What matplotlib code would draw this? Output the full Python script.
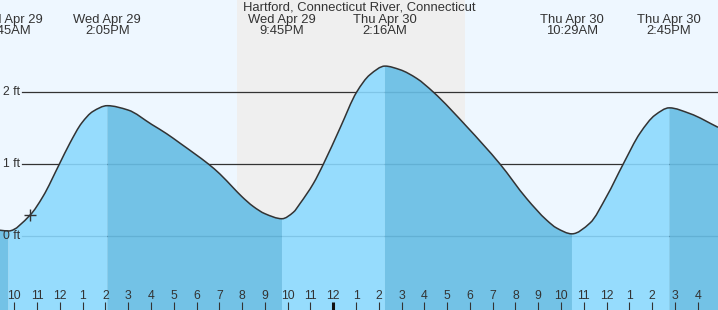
import matplotlib
matplotlib.use("Agg")
import matplotlib.pyplot as plt
import matplotlib.transforms as mtransforms
from matplotlib.path import Path
from matplotlib.patches import PathPatch

plt.rcParams['font.family'] = ['Liberation Sans', 'DejaVu Sans']

# tide curve (hours since midnight Apr 29, feet)
times = [9.37, 9.75, 10.69, 11.26, 11.98, 12.44, 12.96, 13.45, 14.08, 14.99,
         16.03, 16.69, 17.27, 17.93, 18.52, 19.03, 19.61, 19.98, 20.49, 21.00,
         21.75, 22.25, 22.54, 23.13, 23.57, 24.30, 25.03, 25.61, 26.27, 26.93,
         27.66, 28.39, 29.86, 31.32, 32.49, 33.37, 33.81, 34.48, 35.27, 36.00,
         36.73, 37.47, 38.13, 38.75, 39.66, 40.89]
heights = [0.08, 0.07, 0.29, 0.55, 1.00, 1.29, 1.57, 1.73, 1.81, 1.75,
           1.55, 1.42, 1.29, 1.14, 1.00, 0.86, 0.67, 0.55, 0.41, 0.31,
           0.24, 0.33, 0.45, 0.73, 1.00, 1.50, 2.00, 2.24, 2.36, 2.31,
           2.19, 2.00, 1.52, 1.00, 0.52, 0.22, 0.11, 0.03, 0.18, 0.55,
           1.00, 1.43, 1.68, 1.78, 1.70, 1.51]

# highs and lows
ext_times = [9.75, 14.08, 21.75, 26.27, 34.48, 38.75]
ext_days = ['Wed Apr 29', 'Wed Apr 29', 'Wed Apr 29', 'Thu Apr 30', 'Thu Apr 30', 'Thu Apr 30']
ext_clock = ['9:45AM', '2:05PM', '9:45PM', '2:16AM', '10:29AM', '2:45PM']

now_time, now_height = 10.69, 0.29
sunset, sunrise = 19.78, 29.78
ft_levels = [0, 1, 2]
hours = list(range(10, 41))

title = 'Hartford, Connecticut River, Connecticut'

W, H = 718, 310
fig = plt.figure(figsize=(W / 100, H / 100), dpi=100)
ax = fig.add_axes([0, 0, 1, 1])
ax.set_xlim(9.372, 40.89)
ymax = 236 / 72
ymin = -(H - 236) / 72
ax.set_ylim(ymin, ymax)
ax.axis('off')


def fy(ypx):
    return 1 - ypx / H


def slopes(xs, ys):
    # monotone cubic tangents, so the smooth line has no overshoot
    n = len(xs)
    h = [xs[i + 1] - xs[i] for i in range(n - 1)]
    d = [(ys[i + 1] - ys[i]) / h[i] for i in range(n - 1)]
    m = [d[0]] + [0.0] * (n - 2) + [d[-1]]
    for i in range(1, n - 1):
        if d[i - 1] * d[i] > 0:
            w1 = 2 * h[i] + h[i - 1]
            w2 = h[i] + 2 * h[i - 1]
            m[i] = (w1 + w2) / (w1 / d[i - 1] + w2 / d[i])
    return m


tang = slopes(times, heights)


def smooth_verts(a, b):
    verts = [(times[a], heights[a])]
    codes = [Path.MOVETO]
    for i in range(a, b):
        dx = times[i + 1] - times[i]
        verts += [(times[i] + dx / 3, heights[i] + tang[i] * dx / 3),
                  (times[i + 1] - dx / 3, heights[i + 1] - tang[i + 1] * dx / 3),
                  (times[i + 1], heights[i + 1])]
        codes += [Path.CURVE4] * 3
    return verts, codes


def area_path(a, b):
    verts, codes = smooth_verts(a, b)
    verts += [(times[b], ymin), (times[a], ymin), (times[a], heights[a])]
    codes += [Path.LINETO, Path.LINETO, Path.CLOSEPOLY]
    return Path(verts, codes)


bt = mtransforms.blended_transform_factory(ax.transData, ax.transAxes)

sky = '#eef7ff'
night = '#efefef'
light = '#96dcfd'
dark = '#73c2e6'
ink = '#333333'

ax.axvspan(9.0, 41.0, color=sky, zorder=0, lw=0)
ax.axvspan(sunset, sunrise, color=night, zorder=0.5, lw=0)

x_start = 9.372 + 22 / 22.78
for lv in ft_levels:
    ax.plot([x_start, 41], [lv, lv], color=ink, lw=0.9, zorder=1)
    ax.text(9.372 + 2.5 / 22.78, lv, f'{lv} ft', ha='left', va='center',
            fontsize=8.8, color=ink, zorder=6)

# fills: falling tide darker, rising tide lighter
idx = [0] + [times.index(t) for t in ext_times] + [len(times) - 1]
for k in range(len(idx) - 1):
    a, b = idx[k], idx[k + 1]
    falling = heights[b] < heights[a]
    ax.add_patch(PathPatch(area_path(a, b), facecolor=dark if falling else light,
                           lw=0, zorder=2))

clip = area_path(0, len(times) - 1)
for lv in ft_levels:
    ln, = ax.plot([x_start, 41], [lv, lv], color='#1a5f85', alpha=0.18,
                  lw=0.9, zorder=3)
    ln.set_clip_path(clip, ax.transData)

cv, cc = smooth_verts(0, len(times) - 1)
ax.add_patch(PathPatch(Path(cv, cc), facecolor='none', edgecolor=ink,
                       lw=1.1, zorder=4))
ax.plot([now_time], [now_height], marker='+', ms=9, mew=1.0, color=ink, zorder=5)

for t, d, c in zip(ext_times, ext_days, ext_clock):
    ax.text(t, fy(19.5), d, transform=bt, ha='center', va='center',
            fontsize=9.4, color=ink, zorder=6)
    ax.text(t, fy(31.5), c, transform=bt, ha='center', va='center',
            fontsize=9.4, color=ink, zorder=6)

ax.text(0.5, fy(7.5), title, transform=ax.transAxes, ha='center', va='center',
        fontsize=9.4, color=ink, zorder=6)

for h in hours:
    lab = str((h - 1) % 12 + 1)
    ax.text(h, fy(296), lab, transform=bt, ha='center', va='center',
            fontsize=8.8, color=ink, zorder=6)
    if h == 24:
        ax.plot([h, h], [fy(302), 0], transform=bt, color='#111111', lw=2.2,
                zorder=6, solid_capstyle='butt')
    else:
        ax.plot([h, h], [fy(302), 0], transform=bt, color=ink, lw=0.8,
                zorder=6, solid_capstyle='butt')

fig.savefig('out.png', dpi=100)
